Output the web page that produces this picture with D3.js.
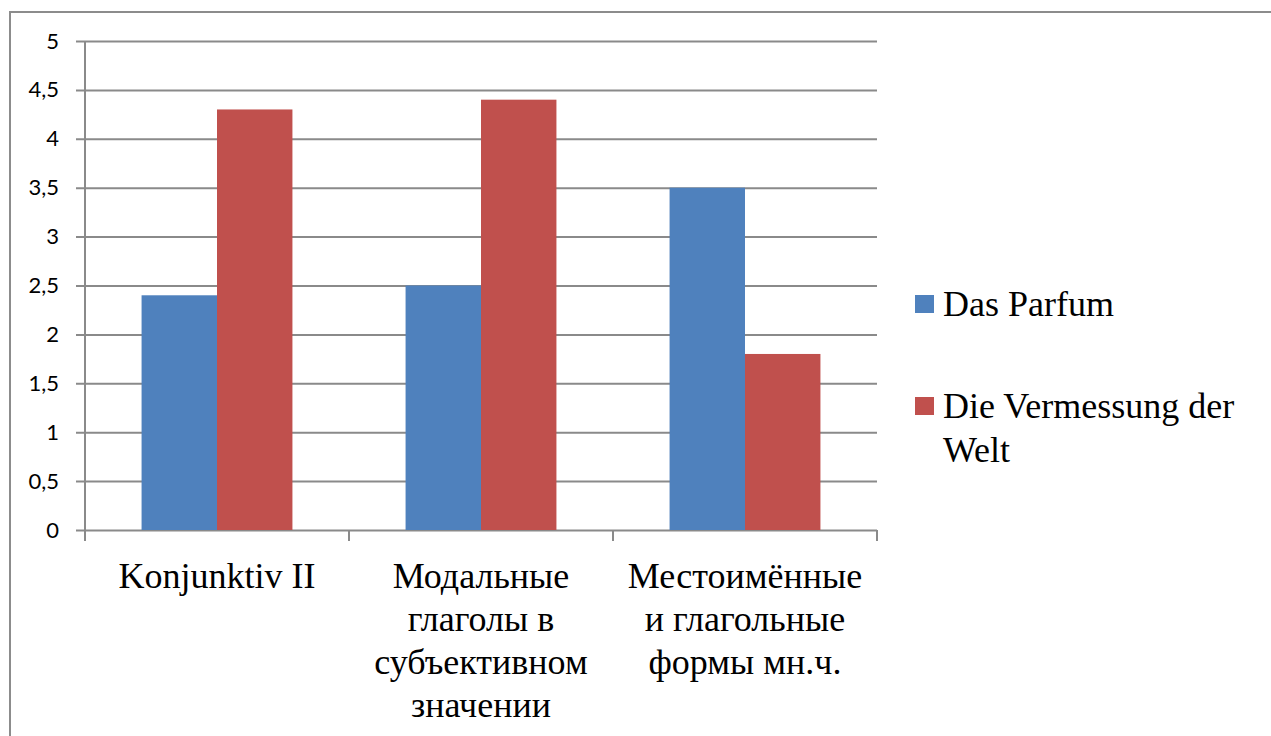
<!DOCTYPE html>
<html lang="en">
<head>
    <meta charset="UTF-8">
    <title>Chart</title>
    <script src="https://cdn.jsdelivr.net/npm/d3@7"></script>
    <style>
        body { margin: 0; background: #fff; }
        .tick-label { font-family: Lato, "Open Sans", sans-serif; font-size: 22px; fill: #000; }
        .cat-label, .legend-label { font-family: "Liberation Serif", "Times New Roman", serif; font-size: 36px; fill: #000; }
    </style>
</head>
<body>
<svg id="chart" width="1271" height="736"></svg>
<script>
    // data
    var categories = ['Konjunktiv II', 'Модальные глаголы в субъективном значении', 'Местоимённые и глагольные формы мн.ч.']
    var catLines = [
        ['Konjunktiv II'],
        ['Модальные', 'глаголы в', 'субъективном', 'значении'],
        ['Местоимённые', 'и глагольные', 'формы мн.ч.']
    ]
    var seriesNames = ['Das Parfum', 'Die Vermessung der Welt']
    var legendLines = [['Das Parfum'], ['Die Vermessung der', 'Welt']]
    var parfum = [2.4, 2.5, 3.5]
    var vermessung = [4.3, 4.4, 1.8]
    var yTicks = [0, 0.5, 1, 1.5, 2, 2.5, 3, 3.5, 4, 4.5, 5]
    var colors = ['#4F81BD', '#C0504D']

    var width = 1271, height = 736
    var plotLeft = 85, plotRight = 877, plotTop = 41, plotBottom = 530
    var gridColor = '#8a8a8a'

    var svg = d3.select('#chart')

    // outer frame (only top and left visible)
    svg.append('rect')
        .attr('x', 10).attr('y', 12)
        .attr('width', width + 20).attr('height', height + 20)
        .style('fill', '#fff')
        .style('stroke', '#8c8c8c')
        .style('stroke-width', 2)

    var y = d3.scaleLinear().domain([0, 5]).range([plotBottom, plotTop])
    var x0 = d3.scaleBand().domain(categories).range([plotLeft, plotRight])
    var x1 = d3.scaleBand().domain(seriesNames).range([0, x0.bandwidth()]).paddingOuter(0.75)

    // gridlines + y labels
    var yAxis = d3.axisLeft(y).tickValues(yTicks)
        .tickSize(-(plotRight - plotLeft))
        .tickPadding(26)
        .tickFormat(function (d) { return String(d).replace('.', ','); })
    var gy = svg.append('g').attr('transform', 'translate(' + plotLeft + ',0)').call(yAxis)
    gy.select('.domain').remove()
    gy.selectAll('.tick line')
        .attr('x1', -9)
        .style('stroke', gridColor).style('stroke-width', 2)
    gy.selectAll('.tick text').attr('class', 'tick-label')
    gy.attr('font-family', null).attr('font-size', null)

    // y axis line
    svg.append('line')
        .attr('x1', plotLeft).attr('x2', plotLeft)
        .attr('y1', plotTop).attr('y2', plotBottom + 11)
        .style('stroke', gridColor).style('stroke-width', 2)

    // category ticks
    svg.append('g').selectAll('line')
        .data(categories)
        .enter().append('line')
        .attr('x1', function (d) { return x0(d) + x0.bandwidth(); })
        .attr('x2', function (d) { return x0(d) + x0.bandwidth(); })
        .attr('y1', plotBottom).attr('y2', plotBottom + 11)
        .style('stroke', gridColor).style('stroke-width', 2)

    // bars
    var rows = categories.map(function (c, i) {
        return [{cat: c, s: seriesNames[0], v: parfum[i]}, {cat: c, s: seriesNames[1], v: vermessung[i]}]
    })
    svg.append('g').selectAll('g')
        .data(rows)
        .enter().append('g')
        .selectAll('rect')
        .data(function (d) { return d; })
        .enter().append('rect')
        .attr('x', function (d) { return x0(d.cat) + x1(d.s); })
        .attr('width', x1.bandwidth())
        .attr('y', function (d) { return y(d.v); })
        .attr('height', function (d) { return y(0) - y(d.v); })
        .style('fill', function (d, i) { return colors[i]; })

    // category labels
    var catText = svg.append('g').selectAll('text')
        .data(categories)
        .enter().append('text')
        .attr('class', 'cat-label')
        .style('text-anchor', 'middle')
        .attr('x', function (d) { return x0(d) + x0.bandwidth() / 2; })
        .attr('y', 588)
    catText.selectAll('tspan')
        .data(function (d, i) { return catLines[i]; })
        .enter().append('tspan')
        .attr('x', function () { return d3.select(this.parentNode).attr('x'); })
        .attr('dy', function (d, i) { return i === 0 ? 0 : 43; })
        .text(function (d) { return d; })

    // legend
    var legendY = [316, 418]
    var legend = svg.append('g').selectAll('g')
        .data(seriesNames)
        .enter().append('g')
        .attr('transform', function (d, i) { return 'translate(915,' + legendY[i] + ')'; })
    legend.append('rect')
        .attr('x', 0).attr('y', -21)
        .attr('width', 19).attr('height', 18)
        .style('fill', function (d, i) { return colors[i]; })
    var lt = legend.append('text').attr('class', 'legend-label').attr('x', 28)
    lt.selectAll('tspan')
        .data(function (d, i) { return legendLines[i]; })
        .enter().append('tspan')
        .attr('x', 28)
        .attr('dy', function (d, i) { return i === 0 ? 0 : 44; })
        .text(function (d) { return d; })
</script>
</body>
</html>
